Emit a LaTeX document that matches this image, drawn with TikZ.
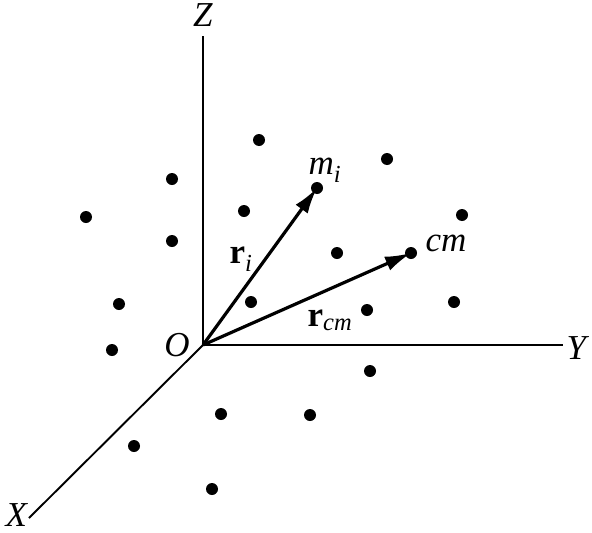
\documentclass[tikz,border=0pt]{standalone}
\usepackage{fontspec}
\setmainfont{Liberation Serif}
\usetikzlibrary{arrows.meta}
\tikzset{
  axis/.style={line width=1.9pt},
  vec/.style={line width=3.2pt,-{Latex[length=26pt,width=15pt]}},
  pt/.style={circle,fill=black,inner sep=0pt,minimum size=12pt},
  lbl/.style={inner sep=0pt,font=\fontsize{35}{37}\selectfont}
}
\begin{document}
\begin{tikzpicture}[x=1pt,y=-1pt]
\useasboundingbox (0,0) rectangle (592,533);
\coordinate (O) at (203,345);
\coordinate (Zend) at (203,36);
\coordinate (Yend) at (563,345);
\coordinate (Xend) at (29,518);
\draw[axis] (O) -- (Zend);
\draw[axis] (O) -- (Yend);
\draw[axis] (O) -- (Xend);
\node[lbl] (Zl) at (203,15) {\textit{Z}};
\node[lbl] (Yl) at (578,348) {\textit{Y}};
\node[lbl] (Xl) at (17,515) {\textit{X}};
\node[lbl] (Ol) at (177,345) {\textit{O}};
% points
\node[pt] (p1) at (259,140) {};
\node[pt] (p2) at (387,159) {};
\node[pt] (p3) at (172,179) {};
\node[pt] (mi) at (317,188) {};
\node[pt] (p5) at (244,211) {};
\node[pt] (p6) at (462,215) {};
\node[pt] (p7) at (86,217) {};
\node[pt] (p8) at (172,241) {};
\node[pt] (p9) at (337,253) {};
\node[pt] (cm) at (411,253) {};
\node[pt] (p11) at (119,304) {};
\node[pt] (p12) at (251,302) {};
\node[pt] (p13) at (367,310) {};
\node[pt] (p14) at (454,302) {};
\node[pt] (p15) at (112,350) {};
\node[pt] (p16) at (370,371) {};
\node[pt] (p17) at (221,414) {};
\node[pt] (p18) at (310,415) {};
\node[pt] (p19) at (134,446) {};
\node[pt] (p20) at (212,489) {};
% vectors
\draw[vec] (O) -- (mi.center);
\draw[vec] (O) -- (cm.center);
\node[lbl] (mil) at (325,170) {\textit{m}\textsubscript{\textit{i}}};
\node[lbl] (ril) at (241,259) {\textbf{r}\textsubscript{\textit{i}}};
\node[lbl] (cml) at (446,243) {\textit{cm}};
\node[lbl] (rcml) at (330,320) {\textbf{r}\textsubscript{\textit{cm}}};
\end{tikzpicture}
\end{document}
